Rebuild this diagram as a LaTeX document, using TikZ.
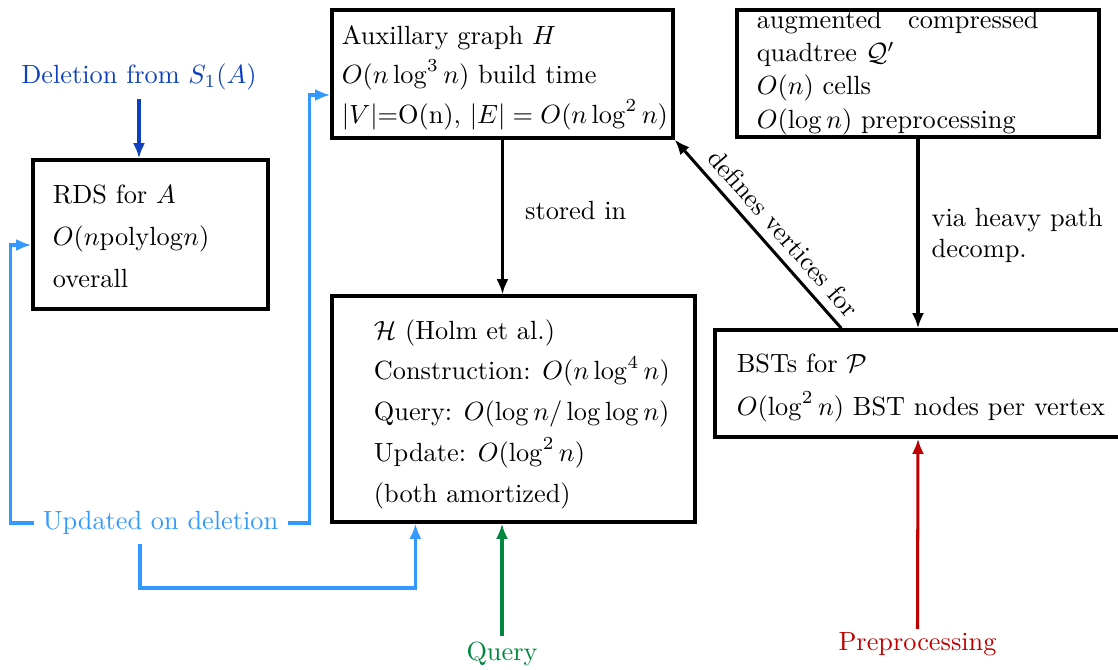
\documentclass[tikz,border=0pt]{standalone}
\usetikzlibrary{arrows.meta,calc}
\definecolor{delblue}{RGB}{15,65,190}
\definecolor{updblue}{RGB}{51,153,255}
\definecolor{qgreen}{RGB}{0,136,62}
\definecolor{pred}{RGB}{190,0,0}
\begin{document}
\begin{tikzpicture}[x=0.38pt,y=-0.38pt,
  box/.style={draw, line width=1.25pt, inner sep=0pt},
  txt/.style={anchor=west, inner sep=0pt, align=left},
  linegap/.style={font=\fontsize{10pt}{#1}\selectfont},
  tip/.style={-{Latex[length=5.8pt,width=4.6pt]}},
  arr/.style={line width=1.15pt, tip},
  upd/.style={color=updblue, line width=1.2pt},
  lbl/.style={inner sep=3.33pt}
]
\path[use as bounding box, clip] (0,0) rectangle (1118,670);

% boxes
\node[box, minimum width=89.3pt, minimum height=56.6pt] (rds) at (150.5,234.5) {};
\node[box, minimum width=129.6pt, minimum height=48.6pt] (aux) at (502.5,74) {};
\node[box, minimum width=137.6pt, minimum height=48.3pt] (quad) at (918,73.5) {};
\node[box, minimum width=137.9pt, minimum height=85.9pt] (holm) at (513.5,409) {};
\node[box, minimum width=154.3pt, minimum height=40.7pt] (bst) at (918,383.5) {};

% box contents
\node[txt, linegap=16pt] (rdst) at ($(rds.west)+(21,1.5)$)
  {RDS for $A$\\ $O(n\mathrm{polylog}n)$\\ overall};
\node[txt, linegap=15pt] (auxt) at ($(aux.west)+(11,3.5)$)
  {Auxillary graph $H$\\ $O(n\log^3 n)$ build time\\ $|V|$=O(n), $|E| = O(n\log^2 n)$};
\node[txt, linegap=12.6pt] (quadt) at ($(quad.west)+(21,-1)$)
  {augmented\quad compressed\\ quadtree $\mathcal{Q}'$\\ $O(n)$ cells\\ $O(\log n)$ preprocessing};
\node[txt, linegap=15.5pt] (holmt) at ($(holm.west)+(43,5)$)
  {$\mathcal{H}$ (Holm et al.)\\ Construction: $O(n\log^4 n)$\\ Query: $O(\log n/\log\log n)$\\ Update: $O(\log^2 n)$\\ (both amortized)};
\node[txt, linegap=16pt] (bstt) at ($(bst.west)+(23,4.5)$)
  {BSTs for $\mathcal{P}$\\ $O(\log^2 n)$ BST nodes per vertex};

% free labels
\node[lbl, text=delblue] (del) at (139,76.5) {Deletion from $S_1(A)$};
\node[lbl, text=updblue] (updl) at (160.5,523) {Updated on deletion};
\node[lbl, text=qgreen] (qry) at (502,653.6) {Query};
\node[lbl, text=pred] (pre) at (917.5,644.6) {Preprocessing};

% black connectors
\draw[arr] (aux.south) -- node[pos=0.46, right, xshift=4.7pt] {stored in} (aux.south |- holm.north);
\draw[arr] (quad.south) -- node[pos=0.51, right, xshift=1.3pt, align=left] {via heavy path\\ decomp.} (bst.north);
\draw[arr] ($(bst.north west)+(128,0)$) -- node[pos=0.436, sloped, above] {defines vertices for} (aux.south east);

% coloured inputs
\draw[arr, color=delblue] (del.south) -- (del.south |- rds.north);
\draw[arr, color=qgreen, shorten <=-1.5pt] (qry.north) -- (qry.north |- holm.south);
\draw[arr, color=pred, shorten <=-2pt] (pre.north) -- (bst.south);

% deletion updates
\draw[upd, tip] (updl.west) -| ($(rds.west)+(-21,10.5)$) -- ($(rds.west)+(0,10.5)$);
\draw[upd, tip] (updl.east) -| ($(aux.west)+(-21,21)$) -- ($(aux.west)+(0,21)$);
\draw[upd, tip] ($(updl.south)+(-20.5,0)$) -- ++(0,44) -| ($(holm.south west)+(85,0)$);
\end{tikzpicture}
\end{document}
